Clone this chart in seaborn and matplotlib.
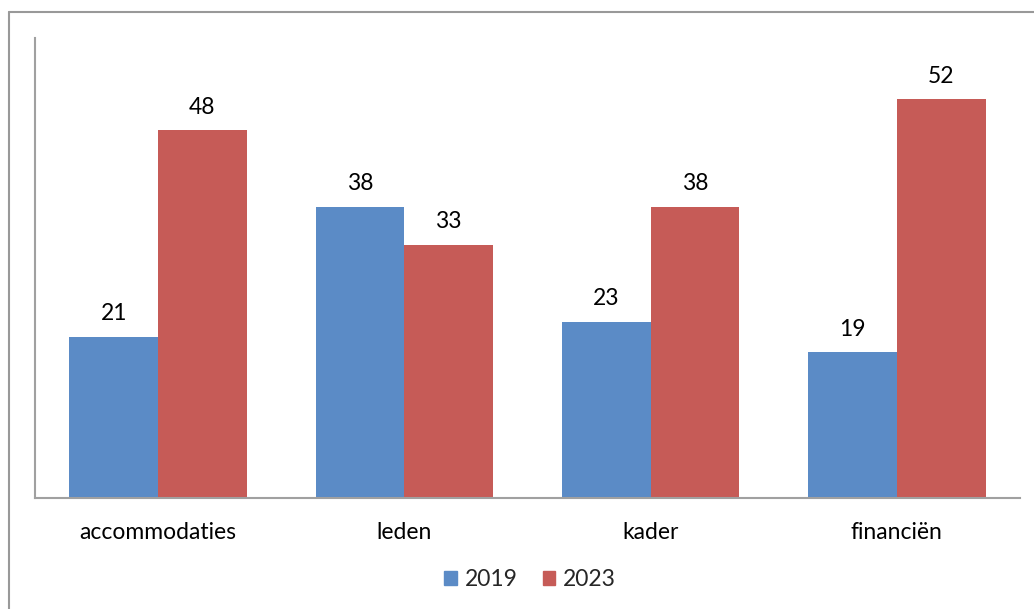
import pandas as pd
import matplotlib.pyplot as plt
import seaborn as sns
from matplotlib.lines import Line2D

sns.set_theme(style='white')
plt.rcParams['font.family'] = ['Lato', 'DejaVu Sans']

categories = ['accommodaties', 'leden', 'kader', 'financiën']
years = ['2019', '2023']
values_2019 = [21, 38, 23, 19]
values_2023 = [48, 33, 38, 52]

df = pd.DataFrame({
    'categorie': categories * 2,
    'jaar': [years[0]] * 4 + [years[1]] * 4,
    'waarde': values_2019 + values_2023,
})

fig = plt.figure(figsize=(10.34, 6.09), dpi=100)
ax = fig.add_axes([35 / 1034, 1 - 498 / 609, 985 / 1034, 460 / 609])

sns.barplot(data=df, x='categorie', y='waarde', hue='jaar', order=categories,
            hue_order=years, palette=['#5B8BC6', '#C65B57'], width=0.72, gap=0,
            saturation=1, linewidth=0, ax=ax, legend=False)

for cont in ax.containers:
    ax.bar_label(cont, padding=9, fontsize=16.5, color='black')

ax.set_ylim(0, 60)
ax.set_xlim(-0.5, 3.5)
ax.set_yticks([])
ax.set_xlabel('')
ax.set_ylabel('')
ax.tick_params(axis='x', length=0, labelsize=16.5, pad=17, labelcolor='black')
for s in ['top', 'right']:
    ax.spines[s].set_visible(False)
for s in ['left', 'bottom']:
    ax.spines[s].set_color('#a0a0a0')
    ax.spines[s].set_linewidth(1.5)

# outer chart frame (top and left edges visible)
fig.add_artist(Line2D([9 / 1034, 9 / 1034], [0, 1 - 12 / 609], transform=fig.transFigure,
                      color='#999999', lw=1.5))
fig.add_artist(Line2D([9 / 1034, 1], [1 - 12 / 609, 1 - 12 / 609], transform=fig.transFigure,
                      color='#999999', lw=1.5))

handles = [plt.Rectangle((0, 0), 1, 1, color=c) for c in ['#5B8BC6', '#C65B57']]
fig.legend(handles, years, loc='center', bbox_to_anchor=(530 / 1034, 1 - 580 / 609),
           ncol=2, frameon=False, fontsize=16.5, handlelength=0.55, handleheight=0.55,
           handletextpad=0.35, columnspacing=1.1)

fig.savefig('out.png', dpi=100)
